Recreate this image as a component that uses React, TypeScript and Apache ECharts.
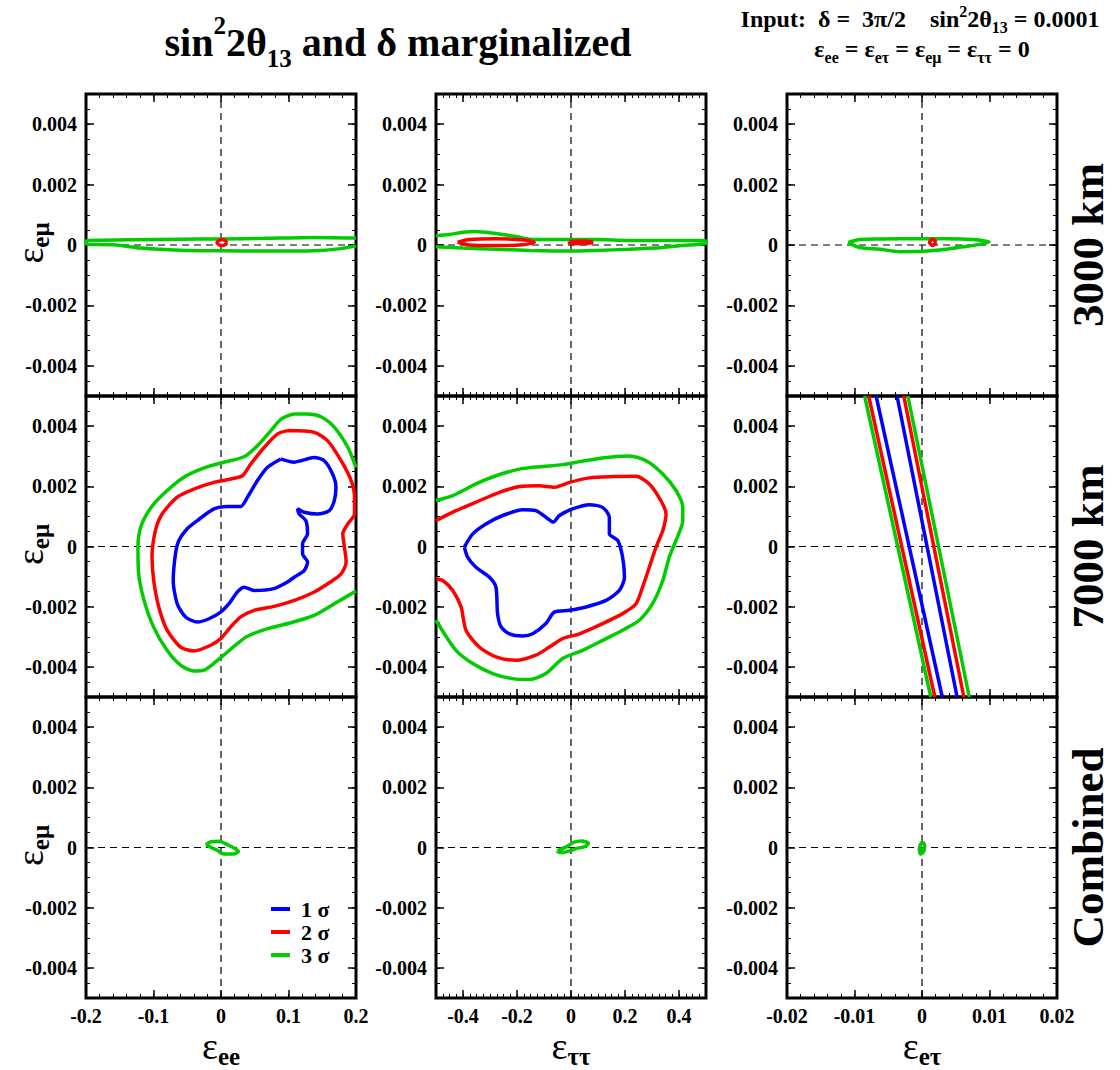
import React, { useEffect, useRef } from 'react';
import * as echarts from 'echarts';

// ---------- axes / labels ----------
const ROW_LABELS = ['3000 km', '7000 km', 'Combined'];
const X_NAME_SUBS = ['ee', 'ττ', 'eτ'];
const X_MIN = [-0.2, -0.5, -0.02];
const X_MAX = [0.2, 0.5, 0.02];
const X_MINOR = [0.02, 0.025, 0.002];
const X_TICKS = [
  [-0.2, -0.1, 0, 0.1, 0.2],
  [-0.4, -0.2, 0, 0.2, 0.4],
  [-0.02, -0.01, 0, 0.01, 0.02],
];
const Y_MIN = -0.005;
const Y_MAX = 0.005;
const Y_MINOR = 0.0005;
const Y_TICKS = [-0.004, -0.002, 0, 0.002, 0.004];
const LEVELS = ['1 σ', '2 σ', '3 σ'];
const COLORS = ['#0000ff', '#ff0000', '#00cc00'];

// ---------- contour data ----------
// row 1 : 3000 km
const ee3000_3s = [
  [0.2, 0.00023], [0.138, 0.00025], [0.064, 0.00022], [0.0, 0.0002], [-0.06, 0.00019],
  [-0.134, 0.00017], [-0.2, 0.00014], [-0.2, 0.00003], [-0.159, 0.00001], [-0.119, -0.0001],
  [-0.06, -0.00017], [0.0, -0.00019], [0.064, -0.0002], [0.138, -0.00019], [0.178, -0.00012],
  [0.2, -0.00003],
];
const ee3000_2s = [
  [0.009, 0.00008], [0.006, 0.00015], [0.0015, 0.00018], [-0.003, 0.00015], [-0.006, 0.00008],
  [-0.003, 0.00001], [0.0015, -0.00002], [0.006, 0.00001],
];
const tt3000_3s = [
  [-0.5, 0.00031], [-0.451, 0.00035], [-0.401, 0.00042], [-0.358, 0.00045], [-0.315, 0.00042],
  [-0.253, 0.00035], [-0.204, 0.00028], [-0.154, 0.00019], [-0.031, 0.00018], [0.093, 0.00018],
  [0.216, 0.00015], [0.34, 0.00015], [0.5, 0.00014], [0.5, 0.00006], [0.438, 0.0],
  [0.34, -0.00008], [0.216, -0.00014], [0.093, -0.00018], [0.0, -0.0002], [-0.154, -0.00018],
  [-0.278, -0.00014], [-0.401, -0.0001], [-0.5, -0.00006],
];
const tt3000_2sA = [
  [-0.42, 0.00009], [-0.377, 0.00018], [-0.278, 0.00021], [-0.179, 0.00017], [-0.136, 0.00009],
  [-0.179, 0.00001], [-0.278, -0.00002], [-0.377, 0.0],
];
const tt3000_2sB = [
  [-0.006, 0.00012], [0.04, 0.00013], [0.077, 0.00011], [0.077, 0.00006], [0.04, 0.00005],
  [-0.006, 0.00006],
];
const et3000_3s = [
  [-0.01096, 0.00008], [-0.00923, 0.00018], [-0.00627, 0.0002], [0.0, 0.00021], [0.0036, 0.00021],
  [0.00756, 0.00018], [0.00993, 0.0001], [0.00854, 0.00002], [0.00607, -0.00006], [0.0036, -0.00014],
  [0.00015, -0.00021], [-0.00331, -0.00022], [-0.00627, -0.00014], [-0.00923, -0.00008],
];
const et3000_2s = [
  [0.0021, 0.00009], [0.0016, 0.0002], [0.0011, 0.00009], [0.0016, -0.00002],
];

// row 2 : 7000 km
const ee7000_3s = [
  [0.2, 0.00263], [0.188, 0.00329], [0.168, 0.00396], [0.148, 0.00431], [0.128, 0.0044],
  [0.109, 0.0044], [0.089, 0.00423], [0.074, 0.00385], [0.054, 0.00335], [0.034, 0.00298],
  [0.004, 0.0028], [-0.025, 0.00261], [-0.055, 0.0023], [-0.085, 0.00175], [-0.105, 0.00125],
  [-0.119, 0.00064], [-0.123, -0.00002], [-0.122, -0.00091], [-0.114, -0.00179], [-0.1, -0.00267],
  [-0.08, -0.00345], [-0.06, -0.00394], [-0.04, -0.00414], [-0.025, -0.00411], [-0.011, -0.00389],
  [0.004, -0.00361], [0.024, -0.00323], [0.039, -0.00298], [0.069, -0.00273], [0.099, -0.00256],
  [0.138, -0.00229], [0.168, -0.0019], [0.2, -0.00148],
];
const ee7000_2s = [
  [0.0986, 0.00385], [0.1383, 0.00379], [0.1581, 0.00351], [0.1779, 0.00285], [0.1928, 0.00219],
  [0.1978, 0.00164], [0.1978, 0.00108], [0.1879, 0.00075], [0.1804, 0.00042], [0.1829, -0.00002],
  [0.1854, -0.00052], [0.1779, -0.00091], [0.1581, -0.00124], [0.1383, -0.00151], [0.1086, -0.00179],
  [0.0788, -0.00199], [0.0491, -0.00212], [0.0292, -0.00234], [0.0144, -0.00267], [-0.0005, -0.00306],
  [-0.0154, -0.00328], [-0.0402, -0.00347], [-0.06, -0.00334], [-0.0798, -0.00278], [-0.0922, -0.00201],
  [-0.0997, -0.00113], [-0.1022, -0.00035], [-0.0972, 0.00053], [-0.0872, 0.00108], [-0.0649, 0.00164],
  [-0.0402, 0.00191], [-0.0104, 0.00213], [0.0144, 0.00224], [0.0317, 0.00235], [0.0441, 0.00274],
  [0.0639, 0.00329], [0.0838, 0.00374],
];
const ee7000_1s = [
  [0.0885, 0.00291], [0.1083, 0.0028], [0.1182, 0.00285], [0.138, 0.00296], [0.1529, 0.00285],
  [0.1653, 0.00241], [0.1703, 0.00197], [0.1678, 0.00152], [0.1604, 0.00119], [0.143, 0.00108],
  [0.1232, 0.00114], [0.1133, 0.00125], [0.1158, 0.00108], [0.1257, 0.00086], [0.1282, 0.00042],
  [0.1208, 0.00009], [0.1208, -0.00024], [0.1282, -0.00052], [0.1232, -0.0008], [0.1083, -0.00102],
  [0.0984, -0.00118], [0.0786, -0.0014], [0.0489, -0.00146], [0.034, -0.00135], [0.0243, -0.00151],
  [0.0119, -0.0019], [-0.0005, -0.00218], [-0.0178, -0.0024], [-0.0352, -0.00251], [-0.0525, -0.00234],
  [-0.0649, -0.0019], [-0.0708, -0.00113], [-0.0674, -0.00024], [-0.0624, 0.0002], [-0.0501, 0.00059],
  [-0.0352, 0.00086], [-0.0104, 0.00125], [0.0094, 0.00133], [0.0292, 0.00133], [0.0392, 0.00164],
  [0.054, 0.00219], [0.0689, 0.00263],
];
const tt7000_3s = [
  [-0.5, 0.00153], [-0.438, 0.00169], [-0.352, 0.00208], [-0.278, 0.00235], [-0.191, 0.00257],
  [-0.117, 0.00265], [-0.031, 0.00272], [0.031, 0.00282], [0.093, 0.00291], [0.167, 0.00299],
  [0.216, 0.00301], [0.278, 0.00285], [0.34, 0.00241], [0.389, 0.00186], [0.414, 0.0013],
  [0.414, 0.00086], [0.389, 0.0002], [0.364, -0.00035], [0.34, -0.00113], [0.302, -0.0019],
  [0.253, -0.00245], [0.191, -0.00278], [0.117, -0.00312], [0.043, -0.00345], [-0.031, -0.00372],
  [-0.093, -0.00422], [-0.154, -0.00442], [-0.216, -0.00439], [-0.29, -0.00422], [-0.364, -0.00389],
  [-0.426, -0.00345], [-0.469, -0.0029], [-0.5, -0.00245],
];
const tt7000_2s = [
  [-0.5, 0.00086], [-0.426, 0.00119], [-0.34, 0.00152], [-0.265, 0.0018], [-0.191, 0.00199],
  [-0.117, 0.00202], [-0.062, 0.00197], [-0.006, 0.00213], [0.068, 0.00228], [0.142, 0.00232],
  [0.241, 0.00233], [0.29, 0.00208], [0.333, 0.00152], [0.352, 0.00108], [0.34, 0.00053],
  [0.315, -0.00002], [0.29, -0.00069], [0.265, -0.00135], [0.241, -0.0019], [0.191, -0.00223],
  [0.117, -0.00256], [0.031, -0.0029], [-0.031, -0.00306], [-0.08, -0.00334], [-0.13, -0.00361],
  [-0.204, -0.00378], [-0.278, -0.00367], [-0.34, -0.00334], [-0.389, -0.00278], [-0.407, -0.00201],
  [-0.438, -0.00146], [-0.475, -0.00113], [-0.5, -0.00107],
];
const tt7000_1s = [
  [-0.395, -0.00002], [-0.364, 0.00042], [-0.315, 0.00075], [-0.253, 0.00103], [-0.179, 0.00122],
  [-0.13, 0.00119], [-0.093, 0.00097], [-0.065, 0.00081], [-0.043, 0.00103], [0.006, 0.00125],
  [0.068, 0.00139], [0.117, 0.0013], [0.142, 0.00097], [0.142, 0.00042], [0.173, 0.0002],
  [0.191, -0.00035], [0.198, -0.00102], [0.179, -0.00146], [0.13, -0.00179], [0.056, -0.00201],
  [-0.006, -0.00212], [-0.062, -0.00218], [-0.093, -0.00256], [-0.142, -0.0029], [-0.179, -0.00297],
  [-0.228, -0.0029], [-0.259, -0.00267], [-0.272, -0.00223], [-0.278, -0.00135], [-0.302, -0.00102],
  [-0.352, -0.00069], [-0.383, -0.00035],
];
const et7000_3sL = [[-0.0085, 0.005], [0.0013, -0.005]];
const et7000_2sL = [[-0.0079, 0.005], [0.0019, -0.005]];
const et7000_1sL = [[-0.0068, 0.005], [0.003, -0.005]];
const et7000_1sR = [[-0.0037, 0.005], [0.0052, -0.005]];
const et7000_2sR = [[-0.0027, 0.005], [0.0062, -0.005]];
const et7000_3sR = [[-0.0021, 0.005], [0.007, -0.005]];

// row 3 : combined
const eeComb_3s = [
  [-0.0223, 0.00009], [-0.0149, 0.00019], [-0.0025, 0.00021], [0.0099, 0.00009], [0.0223, -0.00006],
  [0.0258, -0.00013], [0.0173, -0.00022], [0.0025, -0.00021], [-0.005, -0.0001], [-0.0124, -0.00002],
];
const ttComb_3s = [
  [-0.0506, -0.00011], [-0.016, 0.00003], [0.0086, 0.00017], [0.0395, 0.00022], [0.0642, 0.00014],
  [0.0519, 0.00003], [0.021, -0.00003], [-0.0037, -0.00011], [-0.0346, -0.00017], [-0.0506, -0.00013],
];
const etComb_3s = [
  [0.0001, 0.00019], [0.0004, 0.00005], [0.0002, -0.00015], [-0.0002, -0.00022], [-0.0004, -0.00005],
  [-0.0002, 0.00012],
];

// row, col, level (0=1σ,1=2σ,2=3σ), data, closed
const CONTOURS: [number, number, number, number[][], boolean][] = [
  [0, 0, 2, ee3000_3s, false],
  [0, 0, 1, ee3000_2s, true],
  [0, 1, 2, tt3000_3s, false],
  [0, 1, 1, tt3000_2sA, true],
  [0, 1, 1, tt3000_2sB, true],
  [0, 2, 2, et3000_3s, true],
  [0, 2, 1, et3000_2s, true],
  [1, 0, 2, ee7000_3s, false],
  [1, 0, 1, ee7000_2s, true],
  [1, 0, 0, ee7000_1s, true],
  [1, 1, 2, tt7000_3s, false],
  [1, 1, 1, tt7000_2s, false],
  [1, 1, 0, tt7000_1s, true],
  [1, 2, 2, et7000_3sL, false],
  [1, 2, 1, et7000_2sL, false],
  [1, 2, 0, et7000_1sL, false],
  [1, 2, 0, et7000_1sR, false],
  [1, 2, 1, et7000_2sR, false],
  [1, 2, 2, et7000_3sR, false],
  [2, 0, 2, eeComb_3s, true],
  [2, 1, 2, ttComb_3s, true],
  [2, 2, 2, etComb_3s, true],
];

// ---------- layout ----------
const COL_LEFT = [86, 436, 787];
const COL_W = 270;
const ROW_TOP = [94, 396, 697];
const ROW_H = [302, 301, 301];
const FONT = 'Liberation Serif';

function fmt(v: number) {
  if (Math.abs(v) < 1e-12) return '0';
  return String(+v.toFixed(4));
}

function buildOption() {
  const grid: any[] = [];
  const xAxis: any[] = [];
  const yAxis: any[] = [];
  const series: any[] = [];
  const labelStyle = { fontFamily: FONT, fontWeight: 'bold', fontSize: 20, color: '#000' };

  for (let r = 0; r < 3; r++) {
    for (let c = 0; c < 3; c++) {
      const g = r * 3 + c;
      grid.push({
        left: COL_LEFT[c], top: ROW_TOP[r], width: COL_W, height: ROW_H[r],
        show: true, borderColor: '#000', borderWidth: 3, backgroundColor: 'transparent',
      });
      const xb = {
        gridIndex: g, type: 'value', min: X_MIN[c], max: X_MAX[c],
        splitLine: { show: false }, axisLine: { show: false, onZero: false },
      };
      const yb = {
        gridIndex: g, type: 'value', min: Y_MIN, max: Y_MAX,
        splitLine: { show: false }, axisLine: { show: false, onZero: false },
      };
      for (const pos of ['bottom', 'top']) {
        xAxis.push({
          ...xb, position: pos, interval: X_MINOR[c],
          axisTick: { inside: true, length: 4, lineStyle: { width: 1, color: '#000' } },
          axisLabel: { show: false },
        });
        xAxis.push({
          ...xb, position: pos,
          axisTick: { inside: true, length: 8, customValues: X_TICKS[c], lineStyle: { width: 1.5, color: '#000' } },
          axisLabel: {
            show: pos === 'bottom' && r === 2, customValues: X_TICKS[c], margin: 8,
            formatter: (v: number) => fmt(v), ...labelStyle,
          },
        });
      }
      for (const pos of ['left', 'right']) {
        yAxis.push({
          ...yb, position: pos, interval: Y_MINOR,
          axisTick: { inside: true, length: 4, lineStyle: { width: 1, color: '#000' } },
          axisLabel: { show: false },
        });
        yAxis.push({
          ...yb, position: pos,
          axisTick: { inside: true, length: 8, customValues: Y_TICKS, lineStyle: { width: 1.5, color: '#000' } },
          axisLabel: {
            show: pos === 'left', customValues: Y_TICKS, margin: 9,
            formatter: (v: number) => fmt(v), ...labelStyle,
          },
        });
      }
      const ai = g * 4;
      // dashed zero lines
      series.push({
        type: 'line', name: 'zero', xAxisIndex: ai, yAxisIndex: ai, silent: true, z: 1,
        showSymbol: false, data: [[0, Y_MIN], [0, Y_MAX]],
        lineStyle: { color: '#000', width: 1.2, type: [7, 5] }, itemStyle: { color: '#000' },
      });
      series.push({
        type: 'line', name: 'zero', xAxisIndex: ai, yAxisIndex: ai, silent: true, z: 1,
        showSymbol: false, data: [[X_MIN[c], 0], [X_MAX[c], 0]],
        lineStyle: { color: '#000', width: 1.2, type: [7, 5] }, itemStyle: { color: '#000' },
      });
    }
  }

  for (const [r, c, lvl, pts, closed] of CONTOURS) {
    const g = r * 3 + c;
    const data = closed ? [...pts, pts[0]] : pts;
    series.push({
      type: 'line', name: LEVELS[lvl], xAxisIndex: g * 4, yAxisIndex: g * 4,
      data, showSymbol: false, smooth: pts.length > 2 ? 0.25 : false, z: 3 + (2 - lvl),
      lineStyle: { color: COLORS[lvl], width: 3.5 }, itemStyle: { color: COLORS[lvl] },
      silent: true,
    });
  }

  const tx = (x: number, y: number, text: string, rich: any, extra: any = {}) => ({
    type: 'text', x, y, ...extra,
    style: {
      text, rich, fill: '#000', fontFamily: FONT, fontWeight: 'bold',
      align: 'center', verticalAlign: 'middle',
    },
  });

  const titleRich = {
    m: { fontSize: 40, lineHeight: 58, fontFamily: FONT, fontWeight: 'bold', fill: '#000' },
    sup: { fontSize: 25, lineHeight: 36, verticalAlign: 'top', fontFamily: FONT, fontWeight: 'bold', fill: '#000' },
    sub: { fontSize: 25, lineHeight: 25, verticalAlign: 'bottom', fontFamily: FONT, fontWeight: 'bold', fill: '#000' },
  };
  const inRich = {
    m: { fontSize: 24, lineHeight: 32, fontFamily: FONT, fontWeight: 'bold', fill: '#000' },
    sup: { fontSize: 16, lineHeight: 20, verticalAlign: 'top', fontFamily: FONT, fontWeight: 'bold', fill: '#000' },
    sub: { fontSize: 16, lineHeight: 16, verticalAlign: 'bottom', fontFamily: FONT, fontWeight: 'bold', fill: '#000' },
  };
  const epsRich = {
    e: { fontSize: 38, lineHeight: 46, fontFamily: FONT, fontWeight: 'normal', fill: '#000' },
    s: { fontSize: 25, lineHeight: 25, verticalAlign: 'bottom', fontFamily: FONT, fontWeight: 'bold', fill: '#000' },
  };
  const rowRich = { m: { fontSize: 45, fontFamily: FONT, fontWeight: 'bold', fill: '#000' } };

  const graphic: any[] = [
    tx(398, 42, '{m|sin}{sup|2}{m|2θ}{sub|13}{m| and δ marginalized}', titleRich),
    tx(920, 19, '{m|Input:  δ =  3π/2    sin}{sup|2}{m|2θ}{sub|13}{m| = 0.0001}', inRich),
    tx(922, 49, '{m|ε}{sub|ee}{m| = ε}{sub|eτ}{m| = ε}{sub|eμ}{m| = ε}{sub|ττ}{m| = 0}', inRich),
  ];
  for (let r = 0; r < 3; r++) {
    const cy = ROW_TOP[r] + ROW_H[r] / 2;
    graphic.push(tx(1088, cy, '{m|' + ROW_LABELS[r] + '}', rowRich, { rotation: Math.PI / 2 }));
    graphic.push(tx(30, cy - 2, '{e|ε}{s|eμ}', epsRich, { rotation: Math.PI / 2 }));
  }
  for (let c = 0; c < 3; c++) {
    graphic.push(tx(COL_LEFT[c] + COL_W / 2, 1046, '{e|ε}{s|' + X_NAME_SUBS[c] + '}', epsRich));
  }

  return {
    animation: false,
    backgroundColor: '#fff',
    grid, xAxis, yAxis, series, graphic,
    legend: {
      data: LEVELS, orient: 'vertical', left: 271, top: 898, icon: 'rect',
      itemWidth: 19, itemHeight: 4, itemGap: 1, padding: 0, selectedMode: false,
      textStyle: {
        fontFamily: FONT, fontWeight: 'bold', fontSize: 22, lineHeight: 20.5, color: '#000',
        padding: [0, 0, 0, 6],
      },
    },
  };
}

export default function App() {
  const ref = useRef<HTMLDivElement>(null);
  useEffect(() => {
    document.body.style.margin = '0';
    const chart = echarts.init(ref.current!, null, { renderer: 'svg' });
    chart.setOption(buildOption() as any);
    return () => chart.dispose();
  }, []);
  return <div ref={ref} style={{ width: 1120, height: 1070 }} />;
}
